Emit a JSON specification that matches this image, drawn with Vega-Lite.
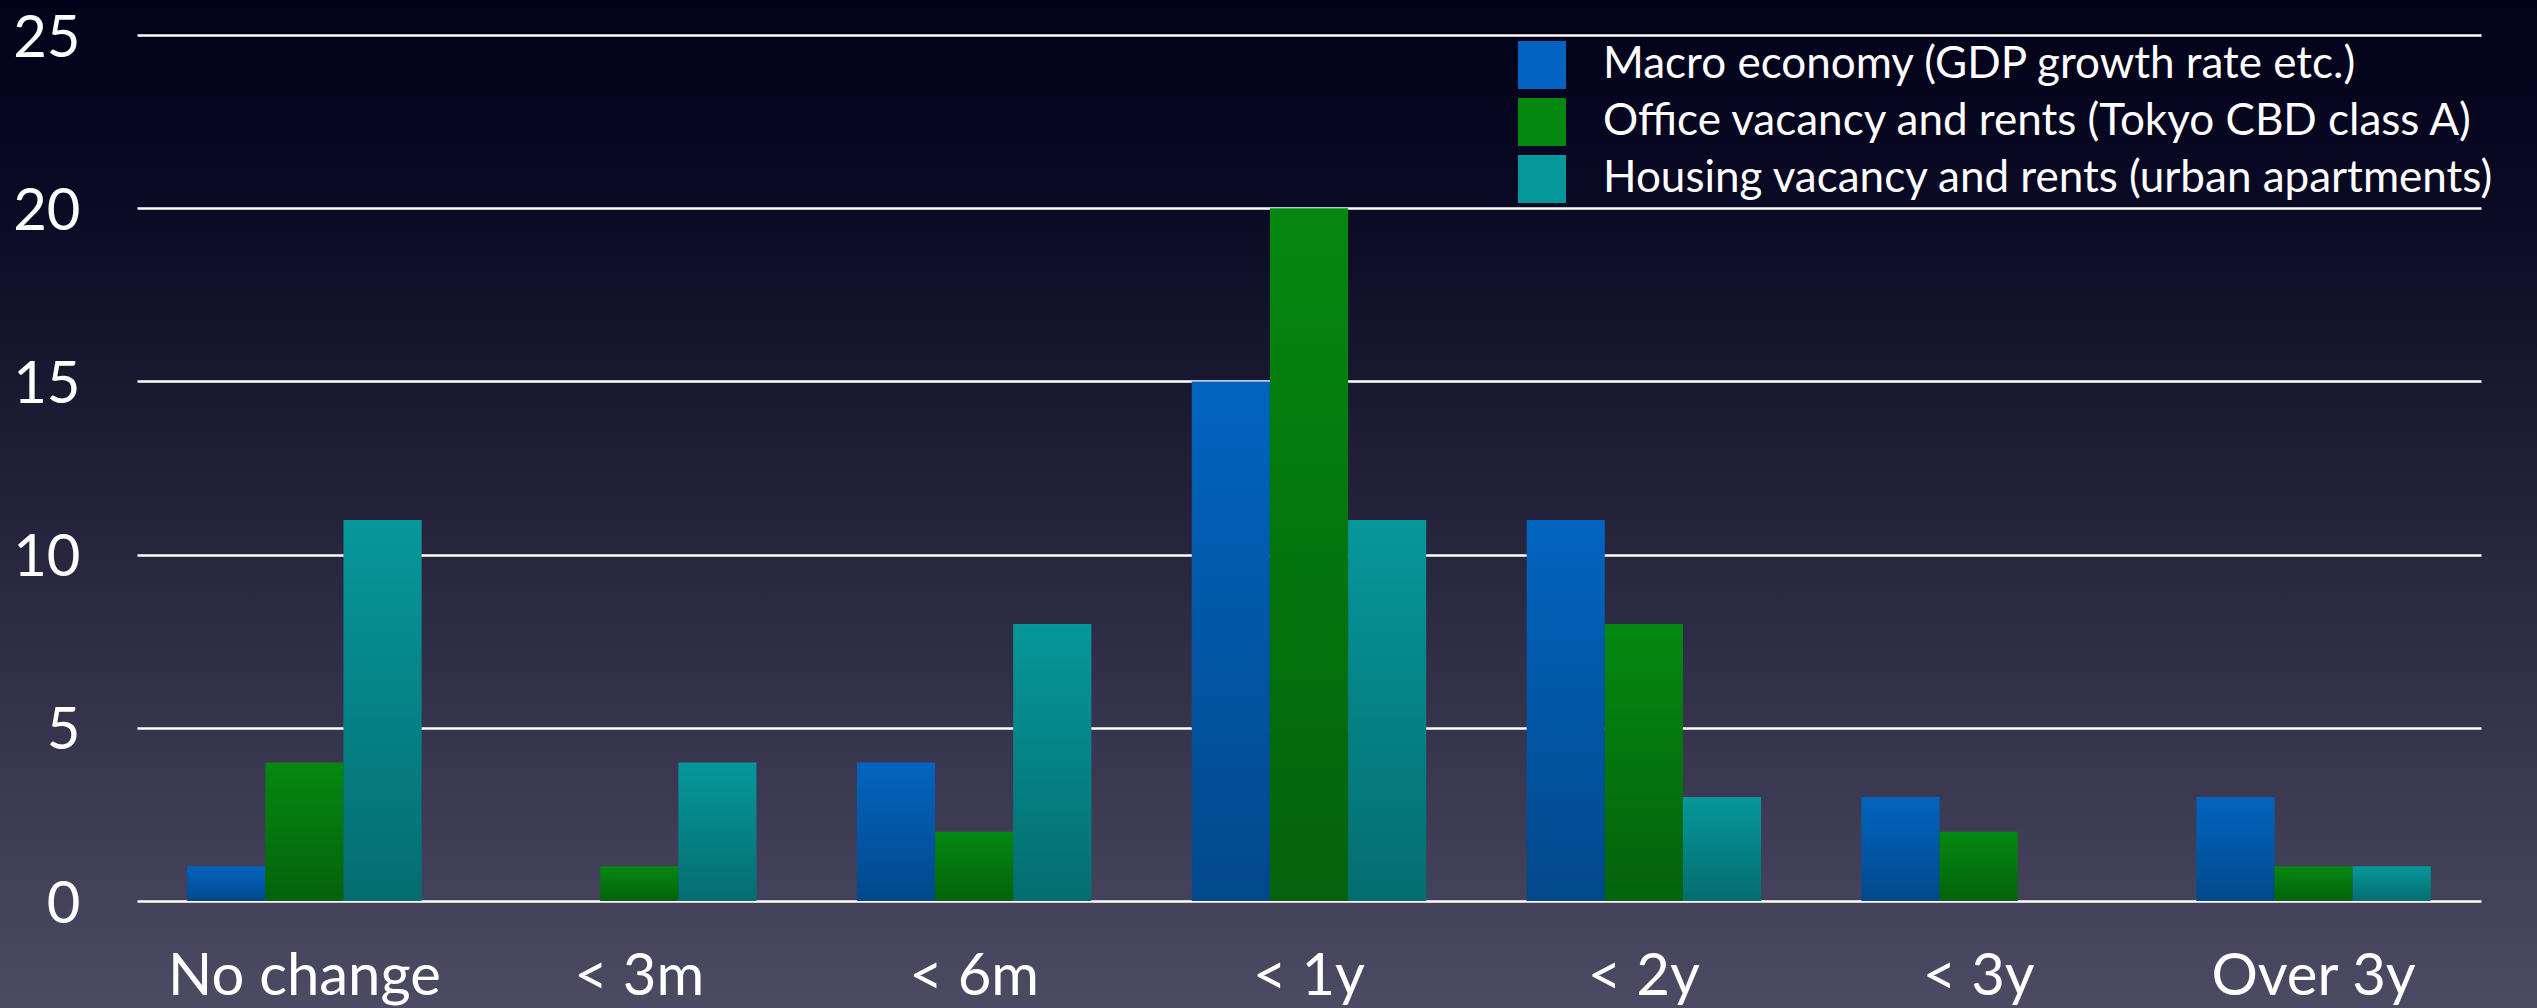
{
  "$schema": "https://vega.github.io/schema/vega-lite/v6.json",
  "width": 2537,
  "height": 1008,
  "autosize": "none",
  "padding": 0,
  "background": "#242338",
  "config": {
    "font": "Lato",
    "view": {
      "stroke": null,
      "fill": {
        "gradient": "linear",
        "x1": 0, "y1": 0, "x2": 0, "y2": 1,
        "stops": [
          {"offset": 0, "color": "#02011a"},
          {"offset": 0.2, "color": "#0b0a24"},
          {"offset": 0.5, "color": "#23223a"},
          {"offset": 1, "color": "#4c4b63"}
        ]
      }
    }
  },
  "data": {
    "values": [
      {"period": "No change", "series": "Macro economy (GDP growth rate etc.)", "count": 1},
      {"period": "No change", "series": "Office vacancy and rents (Tokyo CBD class A)", "count": 4},
      {"period": "No change", "series": "Housing vacancy and rents (urban apartments)", "count": 11},
      {"period": "< 3m", "series": "Macro economy (GDP growth rate etc.)", "count": 0},
      {"period": "< 3m", "series": "Office vacancy and rents (Tokyo CBD class A)", "count": 1},
      {"period": "< 3m", "series": "Housing vacancy and rents (urban apartments)", "count": 4},
      {"period": "< 6m", "series": "Macro economy (GDP growth rate etc.)", "count": 4},
      {"period": "< 6m", "series": "Office vacancy and rents (Tokyo CBD class A)", "count": 2},
      {"period": "< 6m", "series": "Housing vacancy and rents (urban apartments)", "count": 8},
      {"period": "< 1y", "series": "Macro economy (GDP growth rate etc.)", "count": 15},
      {"period": "< 1y", "series": "Office vacancy and rents (Tokyo CBD class A)", "count": 20},
      {"period": "< 1y", "series": "Housing vacancy and rents (urban apartments)", "count": 11},
      {"period": "< 2y", "series": "Macro economy (GDP growth rate etc.)", "count": 11},
      {"period": "< 2y", "series": "Office vacancy and rents (Tokyo CBD class A)", "count": 8},
      {"period": "< 2y", "series": "Housing vacancy and rents (urban apartments)", "count": 3},
      {"period": "< 3y", "series": "Macro economy (GDP growth rate etc.)", "count": 3},
      {"period": "< 3y", "series": "Office vacancy and rents (Tokyo CBD class A)", "count": 2},
      {"period": "< 3y", "series": "Housing vacancy and rents (urban apartments)", "count": 0},
      {"period": "Over 3y", "series": "Macro economy (GDP growth rate etc.)", "count": 3},
      {"period": "Over 3y", "series": "Office vacancy and rents (Tokyo CBD class A)", "count": 1},
      {"period": "Over 3y", "series": "Housing vacancy and rents (urban apartments)", "count": 1}
    ]
  },
  "encoding": {
    "x": {
      "field": "period",
      "type": "nominal",
      "sort": ["No change", "< 3m", "< 6m", "< 1y", "< 2y", "< 3y", "Over 3y"],
      "scale": {"range": [137, 2481], "paddingInner": 0.3, "paddingOuter": 0.15},
      "axis": {
        "title": null,
        "orient": "bottom",
        "offset": -107,
        "domain": false,
        "ticks": false,
        "tickSize": 0,
        "grid": false,
        "labelAngle": 0,
        "labelPadding": 93,
        "labelBaseline": "alphabetic",
        "labelFontSize": 58,
        "labelColor": "#ffffff",
        "labelFont": "Lato",
        "labelLimit": 1000,
        "labelOverlap": false
      }
    },
    "xOffset": {
      "field": "series",
      "type": "nominal",
      "sort": ["Macro economy (GDP growth rate etc.)", "Office vacancy and rents (Tokyo CBD class A)", "Housing vacancy and rents (urban apartments)"],
      "scale": {"paddingInner": 0, "paddingOuter": 0}
    },
    "y": {
      "field": "count",
      "type": "quantitative",
      "scale": {"domain": [0, 25], "range": [901, 35], "nice": false, "zero": true},
      "axis": {
        "title": null,
        "orient": "left",
        "offset": -80,
        "values": [0, 5, 10, 15, 20, 25],
        "domain": false,
        "ticks": false,
        "tickSize": 0,
        "labelPadding": 0,
        "labelAlign": "right",
        "labelBaseline": "alphabetic",
        "labelOffset": 21,
        "labelFontSize": 58,
        "labelColor": "#ffffff",
        "labelFont": "Lato",
        "grid": true,
        "gridColor": "#ffffff",
        "gridWidth": 2.5,
        "gridOpacity": 1
      }
    }
  },
  "layer": [
    {
      "mark": {"type": "bar", "stroke": null},
      "encoding": {
        "color": {
          "field": "series",
          "type": "nominal",
          "sort": ["Macro economy (GDP growth rate etc.)", "Office vacancy and rents (Tokyo CBD class A)", "Housing vacancy and rents (urban apartments)"],
          "scale": {
            "domain": ["Macro economy (GDP growth rate etc.)", "Office vacancy and rents (Tokyo CBD class A)", "Housing vacancy and rents (urban apartments)"],
            "range": ["#0264c0", "#058810", "#06979b"]
          },
          "legend": {
            "title": null,
            "orient": "none",
            "legendX": 1518,
            "legendY": 41,
            "padding": 0,
            "symbolType": "square",
            "symbolSize": 2304,
            "symbolStrokeWidth": 0,
            "symbolOpacity": 1,
            "labelFontSize": 44,
            "labelFont": "Lato",
            "labelColor": "#ffffff",
            "labelOffset": 37,
            "rowPadding": 9,
            "labelLimit": 1200
          }
        }
      }
    },
    {
      "mark": {
        "type": "bar",
        "stroke": null,
        "fill": {
          "gradient": "linear",
          "x1": 0, "y1": 0, "x2": 0, "y2": 1,
          "stops": [
            {"offset": 0, "color": "rgba(0,0,0,0)"},
            {"offset": 1, "color": "rgba(0,0,0,0.28)"}
          ]
        }
      },
      "encoding": {}
    }
  ]
}
